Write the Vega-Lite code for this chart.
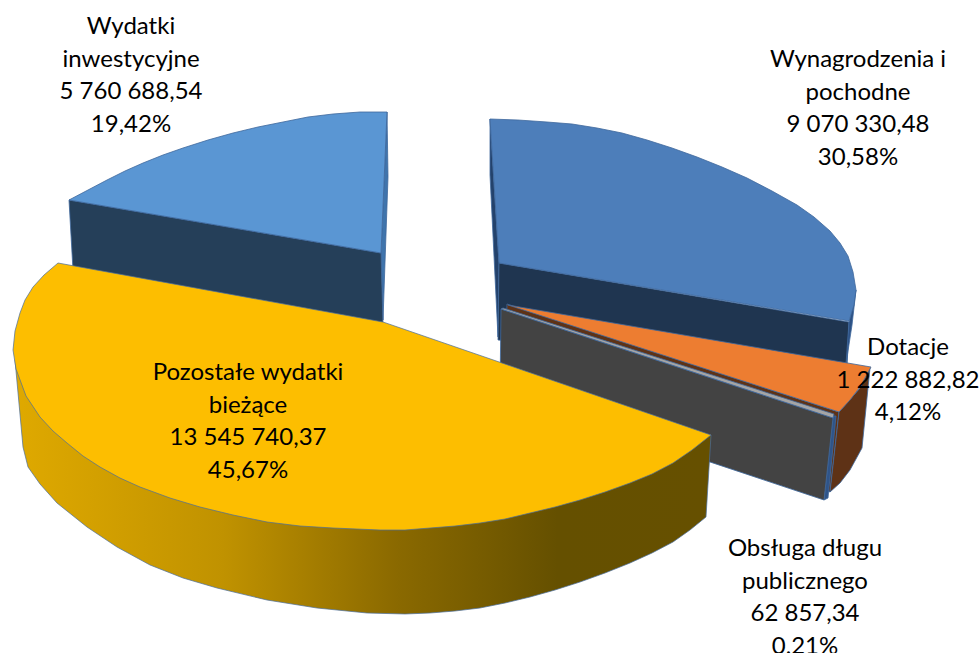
{"$schema":"https://vega.github.io/schema/vega-lite/v6.json","width":979,"height":653,"padding":0,"autosize":"none","background":"white","view":{"stroke":null},
"datasets":{"faces":[
{"face":"invest_inner","i":1,"x":387,"y":112},{"face":"invest_inner","i":2,"x":388,"y":177},{"face":"invest_inner","i":3,"x":383,"y":320},{"face":"invest_inner","i":4,"x":381,"y":253},
{"face":"invest_wall","i":1,"x":69,"y":200},{"face":"invest_wall","i":2,"x":381,"y":253},{"face":"invest_wall","i":3,"x":383,"y":325},{"face":"invest_wall","i":4,"x":73,"y":270},
{"face":"invest_top","i":1,"x":381,"y":253},{"face":"invest_top","i":2,"x":387,"y":112},{"face":"invest_top","i":3,"x":360,"y":112},{"face":"invest_top","i":4,"x":333,"y":114},{"face":"invest_top","i":5,"x":308,"y":117},{"face":"invest_top","i":6,"x":283,"y":122},{"face":"invest_top","i":7,"x":258,"y":127},{"face":"invest_top","i":8,"x":233,"y":133},{"face":"invest_top","i":9,"x":208,"y":140},{"face":"invest_top","i":10,"x":183,"y":148},{"face":"invest_top","i":11,"x":163,"y":155},{"face":"invest_top","i":12,"x":143,"y":163},{"face":"invest_top","i":13,"x":125,"y":171},{"face":"invest_top","i":14,"x":107,"y":180},{"face":"invest_top","i":15,"x":88,"y":190},{"face":"invest_top","i":16,"x":69,"y":200},
{"face":"wage_inner","i":1,"x":490,"y":119},{"face":"wage_inner","i":2,"x":499,"y":263},{"face":"wage_inner","i":3,"x":498,"y":337},{"face":"wage_inner","i":4,"x":490,"y":175},
{"face":"wage_wall","i":1,"x":499,"y":263},{"face":"wage_wall","i":2,"x":849,"y":322},{"face":"wage_wall","i":3,"x":847,"y":368},{"face":"wage_wall","i":4,"x":498,"y":340},
{"face":"wage_edge","i":1,"x":856,"y":290},{"face":"wage_edge","i":2,"x":849,"y":322},{"face":"wage_edge","i":3,"x":846,"y":364},{"face":"wage_edge","i":4,"x":852,"y":325},
{"face":"wage_top","i":1,"x":499,"y":263},{"face":"wage_top","i":2,"x":490,"y":119},{"face":"wage_top","i":3,"x":518,"y":120},{"face":"wage_top","i":4,"x":547,"y":122},{"face":"wage_top","i":5,"x":572,"y":124},{"face":"wage_top","i":6,"x":597,"y":128},{"face":"wage_top","i":7,"x":622,"y":133},{"face":"wage_top","i":8,"x":647,"y":140},{"face":"wage_top","i":9,"x":672,"y":148},{"face":"wage_top","i":10,"x":697,"y":157},{"face":"wage_top","i":11,"x":722,"y":167},{"face":"wage_top","i":12,"x":747,"y":178},{"face":"wage_top","i":13,"x":772,"y":191},{"face":"wage_top","i":14,"x":797,"y":205},{"face":"wage_top","i":15,"x":814,"y":217},{"face":"wage_top","i":16,"x":830,"y":231},{"face":"wage_top","i":17,"x":840,"y":243},{"face":"wage_top","i":18,"x":848,"y":256},{"face":"wage_top","i":19,"x":853,"y":272},{"face":"wage_top","i":20,"x":856,"y":290},{"face":"wage_top","i":21,"x":854,"y":305},{"face":"wage_top","i":22,"x":849,"y":321},
{"face":"grant_wall","i":1,"x":507,"y":304},{"face":"grant_wall","i":2,"x":839,"y":412},{"face":"grant_wall","i":3,"x":830,"y":492},{"face":"grant_wall","i":4,"x":505,"y":380},
{"face":"grant_outer","i":1,"x":870,"y":368},{"face":"grant_outer","i":2,"x":860,"y":388},{"face":"grant_outer","i":3,"x":839,"y":412},{"face":"grant_outer","i":4,"x":830,"y":492},{"face":"grant_outer","i":5,"x":840,"y":483},{"face":"grant_outer","i":6,"x":850,"y":470},{"face":"grant_outer","i":7,"x":862,"y":448},
{"face":"grant_top","i":1,"x":508,"y":305},{"face":"grant_top","i":2,"x":871,"y":367},{"face":"grant_top","i":3,"x":860,"y":387},{"face":"grant_top","i":4,"x":850,"y":400},{"face":"grant_top","i":5,"x":839,"y":412},
{"face":"debt_edge","i":1,"x":833,"y":416},{"face":"debt_edge","i":2,"x":836,"y":416},{"face":"debt_edge","i":3,"x":828,"y":498},{"face":"debt_edge","i":4,"x":824,"y":500},
{"face":"debt_wall","i":1,"x":501,"y":309},{"face":"debt_wall","i":2,"x":833,"y":418},{"face":"debt_wall","i":3,"x":824,"y":500},{"face":"debt_wall","i":4,"x":500,"y":392},
{"face":"debt_top","i":1,"x":503,"y":308},{"face":"debt_top","i":2,"x":834,"y":414},{"face":"debt_top","i":3,"x":833,"y":418},{"face":"debt_top","i":4,"x":501,"y":309},
{"face":"other_side","i":1,"x":15,"y":360},{"face":"other_side","i":2,"x":23,"y":447},{"face":"other_side","i":3,"x":28,"y":467},{"face":"other_side","i":4,"x":40,"y":484},{"face":"other_side","i":5,"x":57,"y":503},{"face":"other_side","i":6,"x":87,"y":527},{"face":"other_side","i":7,"x":117,"y":547},{"face":"other_side","i":8,"x":150,"y":565},{"face":"other_side","i":9,"x":183,"y":578},{"face":"other_side","i":10,"x":217,"y":588},{"face":"other_side","i":11,"x":267,"y":600},{"face":"other_side","i":12,"x":317,"y":608},{"face":"other_side","i":13,"x":367,"y":613},{"face":"other_side","i":14,"x":405,"y":614},{"face":"other_side","i":15,"x":430,"y":613},{"face":"other_side","i":16,"x":455,"y":611},{"face":"other_side","i":17,"x":480,"y":608},{"face":"other_side","i":18,"x":505,"y":603},{"face":"other_side","i":19,"x":530,"y":597},{"face":"other_side","i":20,"x":555,"y":590},{"face":"other_side","i":21,"x":580,"y":582},{"face":"other_side","i":22,"x":605,"y":573},{"face":"other_side","i":23,"x":630,"y":563},{"face":"other_side","i":24,"x":652,"y":553},{"face":"other_side","i":25,"x":673,"y":542},{"face":"other_side","i":26,"x":690,"y":530},{"face":"other_side","i":27,"x":706,"y":517},{"face":"other_side","i":28,"x":711,"y":435},{"face":"other_side","i":29,"x":400,"y":400},
{"face":"other_top","i":1,"x":383,"y":322},{"face":"other_top","i":2,"x":58,"y":263},{"face":"other_top","i":3,"x":44,"y":275},{"face":"other_top","i":4,"x":33,"y":287},{"face":"other_top","i":5,"x":25,"y":300},{"face":"other_top","i":6,"x":20,"y":313},{"face":"other_top","i":7,"x":15,"y":331},{"face":"other_top","i":8,"x":13,"y":350},{"face":"other_top","i":9,"x":16,"y":369},{"face":"other_top","i":10,"x":26,"y":396},{"face":"other_top","i":11,"x":40,"y":417},{"face":"other_top","i":12,"x":53,"y":431},{"face":"other_top","i":13,"x":67,"y":443},{"face":"other_top","i":14,"x":83,"y":456},{"face":"other_top","i":15,"x":100,"y":467},{"face":"other_top","i":16,"x":120,"y":478},{"face":"other_top","i":17,"x":140,"y":487},{"face":"other_top","i":18,"x":170,"y":498},{"face":"other_top","i":19,"x":200,"y":507},{"face":"other_top","i":20,"x":233,"y":515},{"face":"other_top","i":21,"x":267,"y":522},{"face":"other_top","i":22,"x":300,"y":526},{"face":"other_top","i":23,"x":333,"y":528},{"face":"other_top","i":24,"x":380,"y":530},{"face":"other_top","i":25,"x":405,"y":530},{"face":"other_top","i":26,"x":430,"y":528},{"face":"other_top","i":27,"x":455,"y":526},{"face":"other_top","i":28,"x":480,"y":523},{"face":"other_top","i":29,"x":505,"y":519},{"face":"other_top","i":30,"x":530,"y":513},{"face":"other_top","i":31,"x":555,"y":507},{"face":"other_top","i":32,"x":580,"y":500},{"face":"other_top","i":33,"x":605,"y":492},{"face":"other_top","i":34,"x":630,"y":483},{"face":"other_top","i":35,"x":652,"y":474},{"face":"other_top","i":36,"x":673,"y":463},{"face":"other_top","i":37,"x":692,"y":450},{"face":"other_top","i":38,"x":711,"y":435}
],
"labels":[
{"label":"Wydatki\ninwestycyjne\n5 760 688,54\n19,42%","x":131,"y":27},
{"label":"Wynagrodzenia i\npochodne\n9 070 330,48\n30,58%","x":858,"y":60},
{"label":"Dotacje\n1 222 882,82\n4,12%","x":908,"y":348},
{"label":"Pozostałe wydatki\nbieżące\n13 545 740,37\n45,67%","x":248,"y":373},
{"label":"Obsługa długu\npublicznego\n62 857,34\n0,21%","x":805,"y":549}
]},
"encoding":{"x":{"field":"x","type":"quantitative","scale":{"domain":[0,979],"nice":false,"zero":false},"axis":null},"y":{"field":"y","type":"quantitative","scale":{"domain":[653,0],"nice":false,"zero":false},"axis":null}},
"layer":[
{"data":{"name":"faces"},"transform":[{"filter":"datum.face != 'other_side' && datum.face != 'other_top'"}],
"mark":{"type":"line","filled":true,"interpolate":"linear-closed","stroke":"#3F689C","strokeWidth":1,"strokeOpacity":0.8},
"encoding":{"order":{"field":"i","type":"quantitative"},"color":{"field":"face","type":"nominal","legend":null,"sort":null,"scale":{"domain":["invest_inner","invest_wall","invest_top","wage_inner","wage_wall","wage_edge","wage_top","grant_wall","grant_outer","grant_top","debt_edge","debt_wall","debt_top"],"range":["#3F74AC","#253F59","#5A96D3","#24426B","#1F3550","#2D5184","#4D7EBA","#5E3216","#5E3216","#ED7D31","#2F5488","#434343","#A5A5A5"]}}}},
{"data":{"name":"faces"},"transform":[{"filter":"datum.face == 'other_side'"}],
"mark":{"type":"line","interpolate":"linear-closed","stroke":"#4A6E9C","strokeWidth":1,"strokeOpacity":0.7,"fill":{"gradient":"linear","x1":0,"y1":0,"x2":1,"y2":0,"stops":[{"offset":0,"color":"#DFA900"},{"offset":0.3,"color":"#C09200"},{"offset":0.55,"color":"#8A6900"},{"offset":0.78,"color":"#655000"},{"offset":1,"color":"#665000"}]}},
"encoding":{"order":{"field":"i","type":"quantitative"}}},
{"data":{"name":"faces"},"transform":[{"filter":"datum.face == 'other_top'"}],
"mark":{"type":"line","interpolate":"linear-closed","stroke":"#4A6E9C","strokeWidth":1,"strokeOpacity":0.7,"fill":"#FDBE00"},
"encoding":{"order":{"field":"i","type":"quantitative"}}},
{"data":{"name":"labels"},
"mark":{"type":"text","font":"Lato","fontSize":24,"fill":"#000000","align":"center","baseline":"middle","lineBreak":"\n","lineHeight":32.6},
"encoding":{"text":{"field":"label","type":"nominal"}}}
]}
